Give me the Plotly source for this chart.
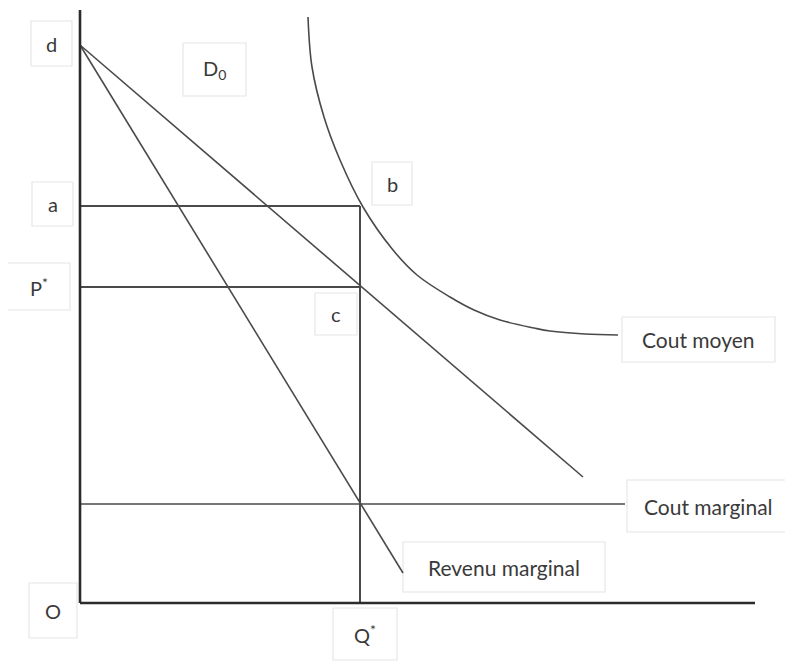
import plotly.graph_objects as go

# ---- data (economic space, origin at O) ----
q_star = 280
price_a = 397          # average cost at Q*
price_star = 316       # P* (demand at Q*)
mc_level = 99          # marginal cost level
d_intercept = 558      # demand intercept (point d)

demand_x = [0, 503]
demand_y = [d_intercept, 126]

mr_x = [0, 323]
mr_y = [d_intercept, 30]

mc_x = [0, 545]
mc_y = [mc_level, mc_level]

ac_x = [228, 232, 244, 260, 283, 313, 337, 370, 394, 420, 454, 470, 505, 538]
ac_y = [586, 536, 486, 443, 396, 353, 328, 306, 293, 283, 275, 272, 269, 268]

axis_x_end = 675
axis_y_end = 593

LINE = "#4a4a4a"
AXIS = "#2b2b2b"
TXT = "#3a3a3a"
BOX = "#e6e6e6"
FONT = "Lato"

fig = go.Figure()

def add_line(x, y, color=LINE, width=1.6, shape="linear"):
    fig.add_trace(go.Scatter(x=x, y=y, mode="lines",
                             line=dict(color=color, width=width, shape=shape),
                             hoverinfo="skip", showlegend=False))

# rectangles a-b and P*-c, vertical at Q*
add_line([0, q_star], [price_a, price_a], width=2)
add_line([0, q_star], [price_star, price_star], width=2)
add_line([q_star, q_star], [0, price_a], width=2)
# marginal cost
add_line(mc_x, mc_y)
# demand and marginal revenue
add_line(demand_x, demand_y)
add_line(mr_x, mr_y)
# average cost
add_line(ac_x, ac_y, shape="spline")
# axes
add_line([0, 0], [0, axis_y_end], color=AXIS, width=2.6)
add_line([0, axis_x_end], [0, 0], color=AXIS, width=2.6)

# label boxes: (text, x0, x1, y0, y1) in pixel-like offsets from O
ox, oy = 80, 603
boxes = [
    ("d", 31, 72, 21, 66, 20),
    ("D<sub>0</sub>", 183, 246, 43, 96, 20),
    ("b", 372, 412, 162, 205, 20),
    ("a", 32, 73, 182, 226, 20),
    ("P<sup>*</sup>", 7, 70, 263, 310, 20),
    ("c", 315, 357, 293, 335, 20),
    ("Cout moyen", 622, 775, 317, 362, 21),
    ("Cout marginal", 627, 790, 480, 532, 21),
    ("Revenu marginal", 403, 605, 542, 592, 21),
    ("O", 29, 77, 583, 638, 20),
    ("Q<sup>*</sup>", 333, 397, 608, 660, 20),
]
for text, x0, x1, y0, y1, fs in boxes:
    fig.add_shape(type="rect", x0=x0 - ox, x1=x1 - ox, y0=oy - y0, y1=oy - y1,
                  line=dict(color=BOX, width=1.2), fillcolor="rgba(255,255,255,0)",
                  layer="below")
    fig.add_annotation(x=(x0 + x1) / 2 - ox, y=oy - (y0 + y1) / 2, text=text,
                       showarrow=False, font=dict(family=FONT, size=fs, color=TXT),
                       xanchor="center", yanchor="middle")

# page body has an 8px margin: shift ranges so marks land where they are in the reference
fig.update_layout(
    width=793, height=661,
    margin=dict(l=0, r=0, t=0, b=0),
    paper_bgcolor="white", plot_bgcolor="white",
    xaxis=dict(range=[-72, 721], visible=False, fixedrange=True),
    yaxis=dict(range=[-66, 595], visible=False, fixedrange=True),
    showlegend=False,
)

fig.write_html("out.html")
